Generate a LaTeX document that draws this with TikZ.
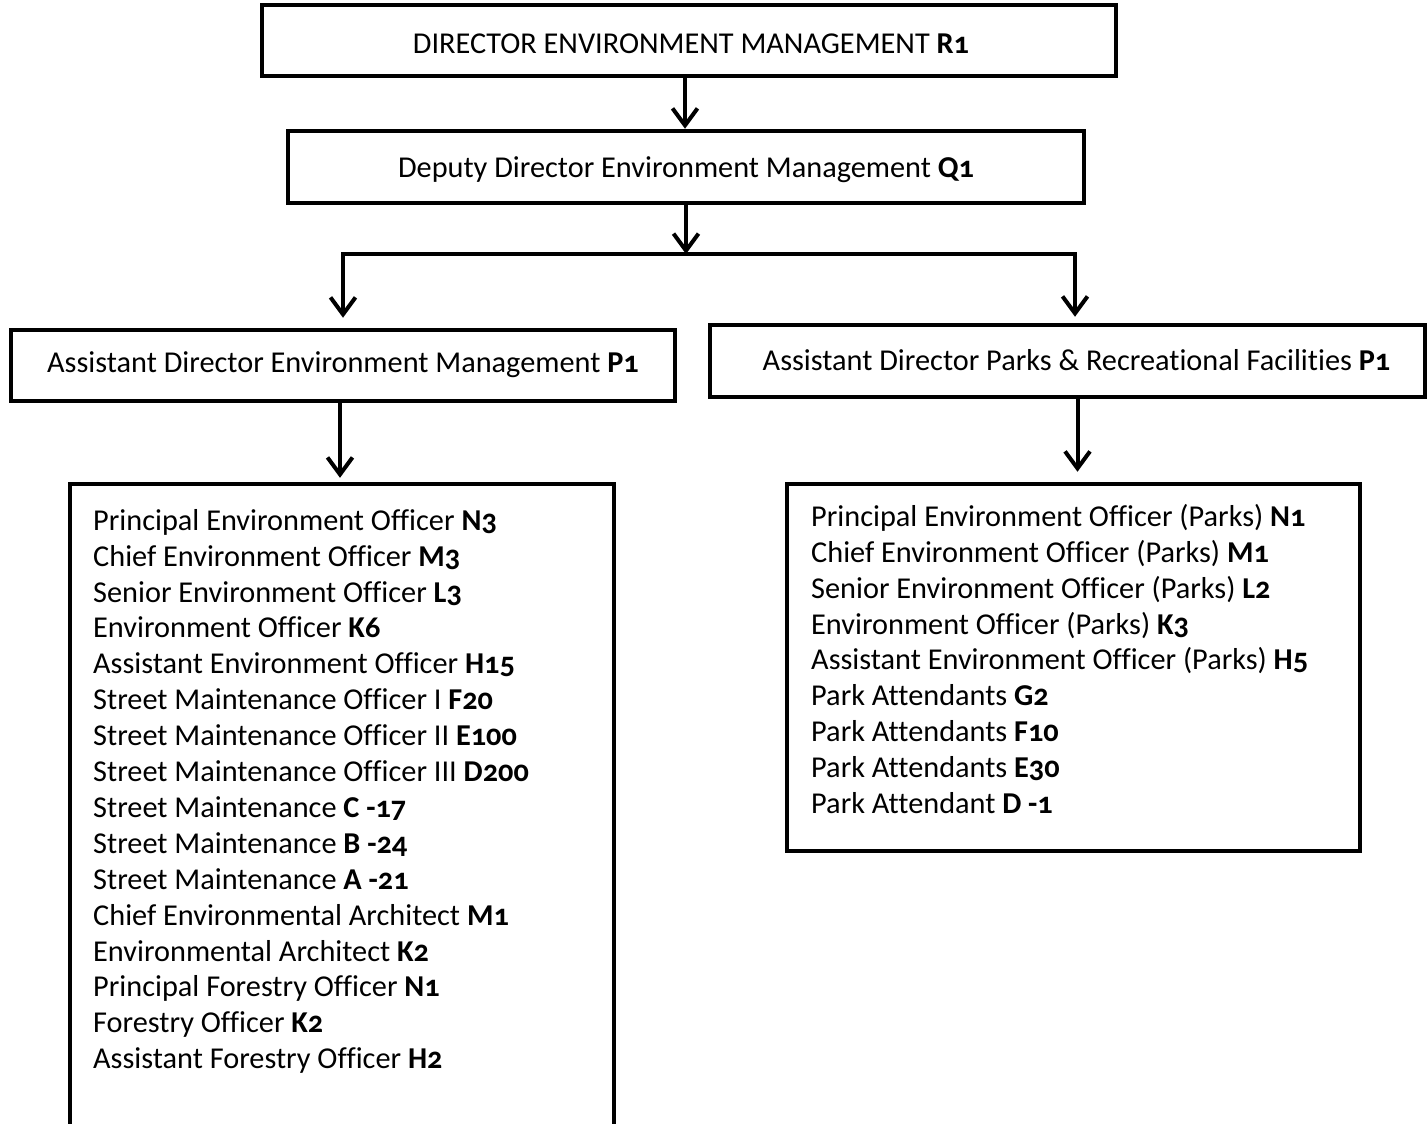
\documentclass[tikz,border=0pt]{standalone}
\usepackage{fontspec}
\setmainfont{Carlito}[Numbers=OldStyle,Ligatures=NoCommon]
\usetikzlibrary{arrows.meta}
\begin{document}
\begin{tikzpicture}[x=1pt,y=-1pt,
  box/.style={draw,line width=4.5pt,inner sep=0pt},
  title/.style={inner sep=0pt,font=\fontsize{30.3}{36}\selectfont},
  list/.style={align=left,inner sep=0pt,font=\fontsize{30.3}{35.9}\selectfont},
  link/.style={line width=4pt},
  arr/.style={line width=4pt,-{Straight Barb[length=17pt,width=25pt]}}]
\useasboundingbox (0,0) rectangle (1427,1124);
% posts
\node[box,minimum width=854pt,minimum height=71pt] (dir) at (689,40.5) {};
\node[title] (dirtext) at ([xshift=2pt,yshift=-3pt]dir.center)
  {DIRECTOR ENVIRONMENT MANAGEMENT \textbf{R1}};
\node[box,minimum width=796pt,minimum height=72pt] (dep) at (686,167) {};
\node[title] (deptext) at ([yshift=-3pt]dep.center)
  {Deputy Director Environment Management \textbf{Q1}};
\node[box,minimum width=664pt,minimum height=71pt] (aden) at (343,365.5) {};
\node[title] (adentext) at ([yshift=1pt]aden.center)
  {Assistant Director Environment Management \textbf{P1}};
\node[box,minimum width=715pt,minimum height=72pt] (adpk) at (1067.5,361) {};
\node[title] (adpktext) at ([xshift=9pt,yshift=1pt]adpk.center)
  {Assistant Director Parks \& Recreational Facilities \textbf{P1}};
% staff lists
\node[minimum width=544pt,minimum height=640pt,inner sep=0pt] (envbox) at (342,804) {};
\draw[line width=4.5pt] (envbox.south west) -- (envbox.north west) -- (envbox.north east) -- (envbox.south east);
\node[list,anchor=north west] (envlist) at (93,509) {%
Principal Environment Officer \textbf{N3}\\
Chief Environment Officer \textbf{M3}\\
Senior Environment Officer \textbf{L3}\\
Environment Officer \textbf{K6}\\
Assistant Environment Officer \textbf{H15}\\
Street Maintenance Officer I \textbf{F20}\\
Street Maintenance Officer II \textbf{E100}\\
Street Maintenance Officer III \textbf{D200}\\
Street Maintenance \textbf{C -17}\\
Street Maintenance \textbf{B -24}\\
Street Maintenance \textbf{A -21}\\
Chief Environmental Architect \textbf{M1}\\
Environmental Architect \textbf{K2}\\
Principal Forestry Officer \textbf{N1}\\
Forestry Officer \textbf{K2}\\
Assistant Forestry Officer \textbf{H2}};
\node[box,minimum width=573pt,minimum height=367pt] (pkbox) at (1073.5,667.5) {};
\node[list,anchor=north west] (pklist) at (811,504) {%
Principal Environment Officer (Parks) \textbf{N1}\\
Chief Environment Officer (Parks) \textbf{M1}\\
Senior Environment Officer (Parks) \textbf{L2}\\
Environment Officer (Parks) \textbf{K3}\\
Assistant Environment Officer (Parks) \textbf{H5}\\
Park Attendants \textbf{G2}\\
Park Attendants \textbf{F10}\\
Park Attendants \textbf{E30}\\
Park Attendant \textbf{D -1}};
% reporting lines
\draw[arr] ([xshift=-4pt]dir.south) -- ([xshift=-1pt]dep.north);
\coordinate (split) at (686,254);
\coordinate (splitL) at (343,254);
\coordinate (splitR) at (1075,254);
\draw[arr] (dep.south) -- (split);
\draw[link,line cap=rect] (splitL) -- (splitR);
\draw[arr,shorten >=10pt] (splitL) -- (splitL |- aden.north);
\draw[arr,shorten >=6pt] (splitR) -- (splitR |- adpk.north);
\draw[arr,shorten >=6pt] ([xshift=-3pt]aden.south) -- ([xshift=-2pt]envbox.north);
\draw[arr,shorten >=10pt] ([xshift=10pt]adpk.south) -- ([xshift=10pt]adpk.south |- pkbox.north);
\end{tikzpicture}
\end{document}
